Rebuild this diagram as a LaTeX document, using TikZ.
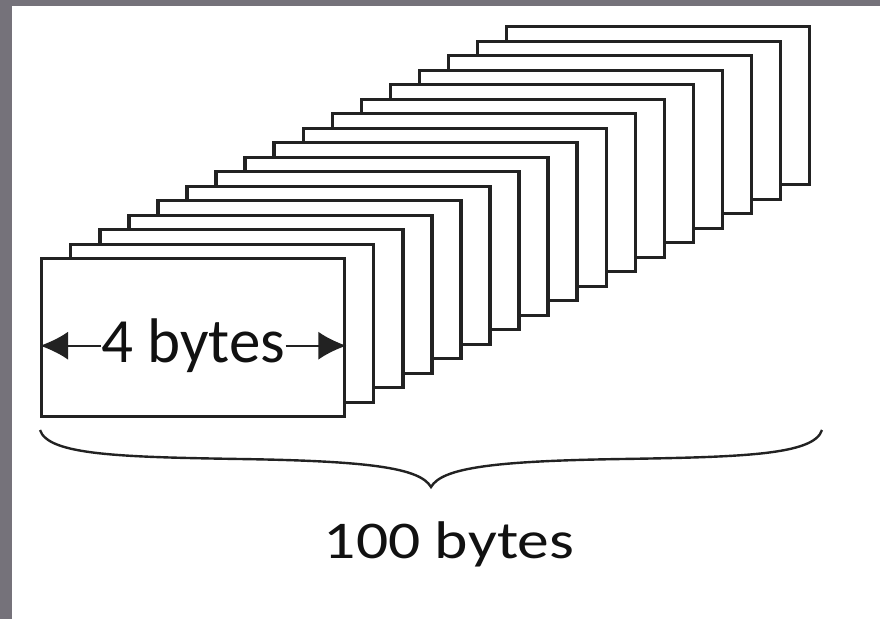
\documentclass[tikz,border=0pt]{standalone}
\usepackage{fontspec}
\setmainfont{Carlito}
\usetikzlibrary{arrows.meta}
\definecolor{FrameGray}{HTML}{75727A}
\definecolor{BlockInk}{HTML}{222222}
\definecolor{LabelInk}{HTML}{111111}

\begin{document}
\begin{tikzpicture}[x=1pt,y=-1pt,
    byteblock/.style={draw=BlockInk,fill=white,line width=3.4pt,inner sep=0pt,
      minimum width=303pt,minimum height=158pt,anchor=north west},
    sizearrow/.style={draw=BlockInk,line width=2pt,-{Latex[length=28pt,width=28pt]}},
    bytelabel/.style={text=LabelInk,inner sep=0pt}]
  \useasboundingbox (0,0) rectangle (880,619);
  \fill[FrameGray] (0,0) rectangle (880,619);
  \fill[white] (12,6) rectangle (880,619);
  % stack of blocks, back to front
  \foreach \i in {16,15,...,0}
    \node[byteblock] (b\i) at ({40+29.06*\i},{257-14.5*\i}) {};
  \node[bytelabel,font=\fontsize{63}{70}\selectfont] (unit) at ([yshift=-8pt]b0.center) {4 bytes};
  \draw[sizearrow] (unit.west) -- (unit.west -| b0.west);
  \draw[sizearrow] (unit.east) -- (unit.east -| b0.east);
  % brace under the stack
  \coordinate (braceL) at (40,430);
  \coordinate (braceTip) at (431,487);
  \coordinate (braceR) at (822,430);
  \draw[BlockInk,line width=2.4pt] (braceL) .. controls (48,455) and (120,457) .. (240,459)
    .. controls (370,461) and (420,468) .. (braceTip)
    .. controls (442,468) and (492,461) .. (622,459)
    .. controls (742,457) and (814,455) .. (braceR);
  \node[bytelabel,font=\fontsize{53}{60}\selectfont,xscale=1.2,anchor=base] (total) at (449,558) {100 bytes};
\end{tikzpicture}
\end{document}
